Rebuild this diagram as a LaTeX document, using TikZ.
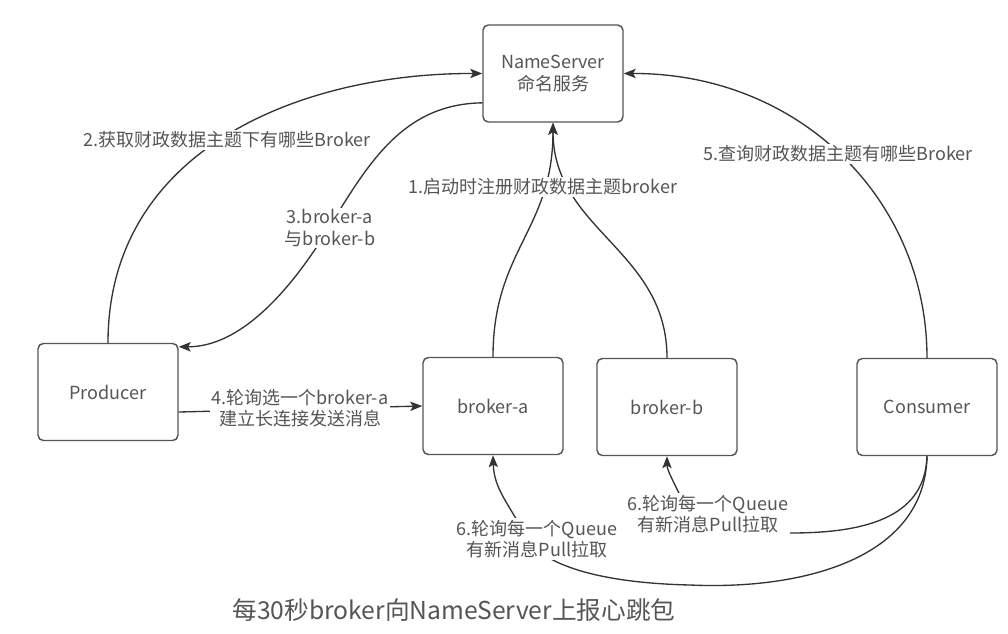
\documentclass[tikz,border=0pt]{standalone}
\usepackage{fontspec}
\setmainfont{Noto Sans CJK SC}
\usetikzlibrary{arrows.meta}
\definecolor{txt}{HTML}{555555}
\definecolor{ln}{HTML}{333333}
\definecolor{bx}{HTML}{555555}
\begin{document}
\begin{tikzpicture}[x=0.75pt,y=-0.75pt,
  box/.style={draw=bx, line width=1.1pt, rounded corners=4pt, minimum width=105pt, minimum height=72.75pt, text=txt, font=\fontsize{13.5pt}{16.5pt}\selectfont, align=center, fill=white},
  lbl/.style={fill=white, text=txt, font=\fontsize{13.5pt}{16pt}\selectfont, align=center, inner sep=1.5pt},
  conn/.style={draw=ln, line width=1pt},
  arr/.style={conn, -{Stealth[length=9pt,width=7pt,inset=2pt]}}]
\useasboundingbox (0,0) rectangle (1008,633);

\node[box] (ns) at (553,73.5) {NameServer\\命名服务};
\node[box] (prod) at (108,392) {Producer};
\node[box] (ba) at (493,406) {broker-a};
\node[box] (bb) at (667,407) {broker-b};
\node[box] (cons) at (927,407) {Consumer};

\draw[arr] (ba.north) .. controls (493,250) and (553,230) .. (ns.south);
\draw[arr] (bb.north) .. controls (667,250) and (553,230) .. (ns.south);
\draw[arr] (prod.north) .. controls (108,150) and (300,73) .. (ns.west);
\draw[arr] ([yshift=-22pt]ns.west) .. controls (405,104) and (370,160) .. (330,226)
   .. controls (290,292) and (240,347) .. ([yshift=-3pt]prod.north east);
\draw[arr] ([yshift=-15pt]prod.east) -- (ba.west);
\draw[arr] (cons.north) .. controls (927,200) and (800,73) .. (ns.east);
\draw[arr] (cons.south) .. controls (925,560) and (800,590) .. (690,585)
   .. controls (600,583) and (540,565) .. (525,535)
   .. controls (510,505) and (494,490) .. (ba.south);
\draw[arr] (cons.south) .. controls (925,520) and (860,533) .. (790,533)
   .. controls (740,533) and (690,515) .. (680,495)
   .. controls (675,485) and (667,470) .. (bb.south);

\node[lbl] (l1) at (543,187) {1.启动时注册财政数据主题broker};
\node[lbl] (l2) at (227,140) {2.获取财政数据主题下有哪些Broker};
\node[lbl] (l3) at (330,228) {3.broker-a\\与broker-b};
\node[lbl] (l4) at (300,408) {4.轮询选一个broker-a\\建立长连接发送消息};
\node[lbl] (l5) at (838,154) {5.查询财政数据主题有哪些Broker};
\node[lbl] (l6a) at (537,539) {6.轮询每一个Queue\\有新消息Pull拉取};
\node[lbl] (l6b) at (708,514) {6.轮询每一个Queue\\有新消息Pull拉取};
\node[text=txt, font=\fontsize{18.5pt}{22pt}\selectfont] (title) at (454,610) {每30秒broker向NameServer上报心跳包};
\end{tikzpicture}
\end{document}
